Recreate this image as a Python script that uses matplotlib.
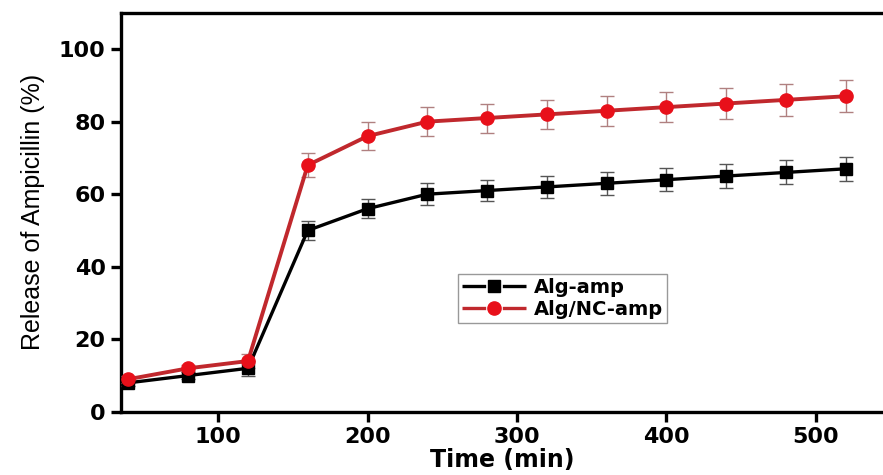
import matplotlib
matplotlib.use("Agg")
import matplotlib.pyplot as plt
from matplotlib.lines import Line2D

# release data
time_min = [40, 80, 120, 160, 200, 240, 280, 320, 360, 400, 440, 480, 520]
alg_amp = [8, 10, 12, 50, 56, 60, 61, 62, 63, 64, 65, 66, 67]
alg_amp_err = [1, 1, 2, 2.5, 2.7, 3, 3, 3, 3.2, 3.2, 3.2, 3.3, 3.3]
alg_nc_amp = [9, 12, 14, 68, 76, 80, 81, 82, 83, 84, 85, 86, 87]
alg_nc_amp_err = [1, 1, 2, 3.3, 3.8, 4, 4, 4, 4.2, 4.2, 4.3, 4.4, 4.4]

x_ticks = [100, 200, 300, 400, 500]
y_ticks = [0, 20, 40, 60, 80, 100]

black_line = "black"
red_line = "#c0282d"
red_marker = "#e8101a"

fig = plt.figure(figsize=(8.83, 4.75), dpi=100)
ax = fig.add_axes([0.137, 0.133, 0.863, 0.840])

ax.errorbar(time_min, alg_amp, yerr=alg_amp_err, color=black_line, lw=2.4,
            marker="s", ms=8, mec=black_line, mfc=black_line,
            ecolor="#555555", elinewidth=1, capsize=5, capthick=1, zorder=3)
ax.errorbar(time_min, alg_nc_amp, yerr=alg_nc_amp_err, color=red_line, lw=2.8,
            marker="o", ms=9.5, mec=red_marker, mfc=red_marker,
            ecolor="#b08080", elinewidth=1, capsize=5, capthick=1, zorder=3)

ax.set_xlim(35, 545)
ax.set_ylim(0, 110)
ax.set_xticks(x_ticks)
ax.set_yticks(y_ticks)

for side in ["left", "bottom", "top"]:
    ax.spines[side].set_linewidth(2.4)
ax.spines["right"].set_visible(False)
ax.tick_params(direction="out", length=7, width=2.4, labelsize=16, pad=4)
for lab in ax.get_xticklabels() + ax.get_yticklabels():
    lab.set_fontweight("bold")
    lab.set_family("DejaVu Sans")

ax.set_xlabel("Time (min)", fontsize=17, fontweight="bold", family="DejaVu Sans", labelpad=1)
ax.set_ylabel("Release of Ampicillin (%)", fontsize=18,
              family=["Liberation Sans Narrow", "Liberation Sans", "DejaVu Sans"], labelpad=10)

# Origin-style legend keys: line broken around the marker
h_black = (Line2D([], [], color=black_line, lw=2.4, dashes=(7.1, 5.0)),
           Line2D([], [], ls="none", marker="s", ms=8, color=black_line))
h_red = (Line2D([], [], color=red_line, lw=2.4, dashes=(7.1, 5.0)),
         Line2D([], [], ls="none", marker="o", ms=9.5, color=red_marker))
leg = ax.legend([h_black, h_red], ["Alg-amp", "Alg/NC-amp"],
                loc="upper left", bbox_to_anchor=(0.519, 0.423), bbox_transform=fig.transFigure,
                frameon=True, fancybox=False, edgecolor="#999999", framealpha=1,
                handlelength=3.3, borderpad=0.2, labelspacing=0.15, handletextpad=0.4,
                borderaxespad=0,
                prop={"family": "DejaVu Sans", "weight": "bold", "size": 14})
leg.get_frame().set_linewidth(1)

fig.savefig("out.png", dpi=100)
